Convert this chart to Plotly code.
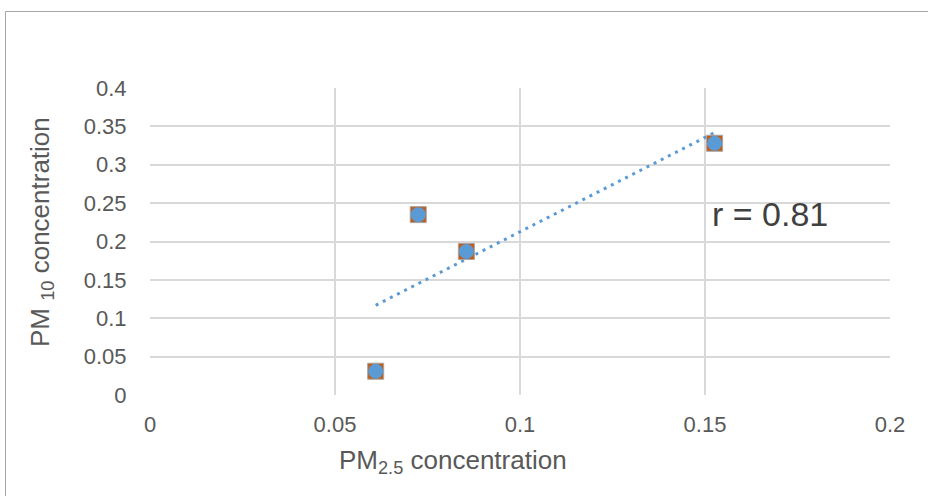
import numpy as np
import plotly.graph_objects as go

# Data
pm25 = [0.061, 0.0725, 0.0855, 0.1526]
pm10 = [0.031, 0.235, 0.187, 0.328]

x_ticks = [0, 0.05, 0.1, 0.15, 0.2]
x_tick_labels = ["0", "0.05", "0.1", "0.15", "0.2"]
y_ticks = [0, 0.05, 0.1, 0.15, 0.2, 0.25, 0.3, 0.35, 0.4]
y_tick_labels = ["0", "0.05", "0.1", "0.15", "0.2", "0.25", "0.3", "0.35", "0.4"]

x_title = "PM<sub>2.5</sub> concentration"
y_title = "PM <sub>10</sub> concentration"

# Linear trendline + correlation
xa = np.array(pm25)
ya = np.array(pm10)
slope, intercept = np.polyfit(xa, ya, 1)
r = np.corrcoef(xa, ya)[0, 1]
tx = np.array([xa.min(), xa.max()])
ty = slope * tx + intercept

FONT = "Liberation Sans, Arial, sans-serif"
W, H = 928, 496
L, R, T, B = 150, 38, 88, 101
pw, ph = W - L - R, H - T - B

def px_to_paper_x(px):
    return (px - L) / pw

def px_to_paper_y(py):
    return (H - B - py) / ph

fig = go.Figure()
fig.add_trace(go.Scatter(
    x=tx, y=ty, mode="lines",
    line=dict(color="#5B9BD5", width=3, dash="3px,5px"),
    hoverinfo="skip", showlegend=False,
))
fig.add_trace(go.Scatter(
    x=pm25, y=pm10, mode="markers",
    marker=dict(symbol="square", size=16, color="#C55A11",
                line=dict(color="#A5A5A5", width=1)),
    showlegend=False,
))
fig.add_trace(go.Scatter(
    x=pm25, y=pm10, mode="markers",
    marker=dict(symbol="circle", size=15, color="#5B9BD5", line=dict(width=0)),
    showlegend=False,
))

fig.add_annotation(
    x=0.1514, y=0.236, xref="x", yref="y", xanchor="left", yanchor="middle",
    text=f"r = {r:.2f}", showarrow=False,
    font=dict(family=FONT, size=34, color="#404040"),
)
fig.add_annotation(
    x=px_to_paper_x(453), y=px_to_paper_y(461), xref="paper", yref="paper",
    xanchor="center", yanchor="middle", text=x_title, showarrow=False,
    font=dict(family=FONT, size=26, color="#595959"),
)
fig.add_annotation(
    x=px_to_paper_x(41), y=px_to_paper_y(232), xref="paper", yref="paper",
    xanchor="center", yanchor="middle", text=y_title, showarrow=False,
    textangle=-90,
    font=dict(family=FONT, size=26, color="#595959"),
)

# chart-area border
fig.add_shape(
    type="rect", xref="paper", yref="paper",
    x0=px_to_paper_x(5.5), y0=px_to_paper_y(520),
    x1=px_to_paper_x(960), y1=px_to_paper_y(11.5),
    line=dict(color="#A6A6A6", width=1), fillcolor="rgba(0,0,0,0)",
    layer="below",
)

fig.update_layout(
    width=W, height=H,
    margin=dict(l=L, r=R, t=T, b=B),
    paper_bgcolor="white", plot_bgcolor="white",
    font=dict(family=FONT, size=22, color="#595959"),
    xaxis=dict(
        range=[0, 0.2], tickvals=x_ticks, ticktext=x_tick_labels,
        showgrid=True, gridcolor="#D9D9D9", gridwidth=1.5,
        zeroline=False, showline=False,
        ticks="outside", ticklen=10, tickcolor="rgba(0,0,0,0)",
        tickfont=dict(family=FONT, size=22, color="#595959"),
    ),
    yaxis=dict(
        range=[0, 0.4], tickvals=y_ticks, ticktext=y_tick_labels,
        showgrid=True, gridcolor="#D9D9D9", gridwidth=1.5,
        zeroline=False, showline=False,
        ticks="outside", ticklen=18, tickcolor="rgba(0,0,0,0)",
        tickfont=dict(family=FONT, size=22, color="#595959"),
    ),
)

fig.write_html("out.html")
